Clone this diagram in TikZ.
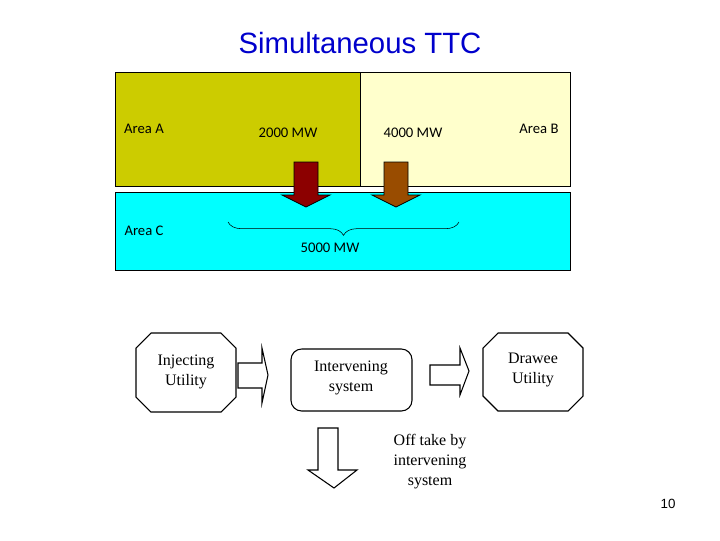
\documentclass[tikz,border=0pt]{standalone}
\usepackage{fontspec}
\setmainfont{Liberation Serif}
\newfontfamily\calfnt{Carlito}
\newfontfamily\arfnt{Liberation Sans}
\usetikzlibrary{decorations.pathreplacing}
\definecolor{olivey}{HTML}{CCCC00}
\definecolor{paley}{HTML}{FFFFCC}
\definecolor{cyanc}{HTML}{00FFFF}
\definecolor{titleb}{HTML}{0000CC}
\begin{document}
\begin{tikzpicture}[x=0.75pt,y=-0.75pt,
  area/.style={draw=black,line width=0.6pt},
  lab/.style={font=\calfnt\fontsize{11}{13}\selectfont},
  fat/.style={draw=black,line width=0.6pt},
  ser/.style={font=\fontsize{12}{15}\selectfont,align=center},
  thick2/.style={draw=black,line width=0.8pt}]
\useasboundingbox (0,0) rectangle (720,540);
\node[font=\arfnt\fontsize{22}{26}\selectfont,text=titleb] (title) at (360,43) {Simultaneous TTC};
\fill[area,fill=olivey] (115,72) rectangle (360,186);
\fill[area,fill=paley] (360,72) rectangle (570,186);
\fill[area,fill=cyanc] (115,192) rectangle (570,270);
\node[lab] (aa) at (144,129) {Area A};
\node[lab] (m2) at (288,133) {2000 MW};
\node[lab] (m4) at (413,133) {4000 MW};
\node[lab] (ab) at (539,129) {Area B};
\node[lab] (ac) at (144,231) {Area C};
\fill[fat,fill=red!55!black] (294,162)--(318,162)--(318,195)--(330,195)--(306,207)--(282,195)--(294,195)--cycle;
\fill[fat,fill=orange!60!black] (384,162)--(408,162)--(408,195)--(420,195)--(396,207)--(372,195)--(384,195)--cycle;
\draw[decorate,decoration={brace,amplitude=10pt,mirror}] (228,222) -- (459,222);
\node[lab] (m5) at (330,248) {5000 MW};
% bottom
\draw[thick2] (151,333)--(221,333)--(236,348)--(236,397)--(221,412)--(151,412)--(136,397)--(136,348)--cycle;
\node[ser] (inj) at (186,372) {Injecting\\Utility};
\draw[thick2] (483+15,333)--(583-15,333)--(583,348)--(583,396)--(568,411)--(498,411)--(483,396)--(483,348)--cycle;
\node[ser] (dra) at (533,370) {Drawee\\Utility};
\draw[thick2,rounded corners=8pt] (291,349) rectangle (412,411);
\node[ser] (int) at (351,378) {Intervening\\system};
\draw[thick2] (238,363)--(262,363)--(262,348)--(268,375)--(262,403)--(262,388)--(238,388)--cycle;
\draw[thick2] (430,365)--(460,365)--(460,348)--(469,371)--(460,395)--(460,385)--(430,385)--cycle;
\draw[thick2] (318,428)--(338,428)--(338,470)--(357,470)--(334,488)--(308,470)--(318,470)--cycle;
\node[ser] (off) at (430,462) {Off take by\\intervening\\system};
\node[font=\arfnt\fontsize{10}{12}\selectfont] (pg) at (668,504) {10};
\end{tikzpicture}
\end{document}
